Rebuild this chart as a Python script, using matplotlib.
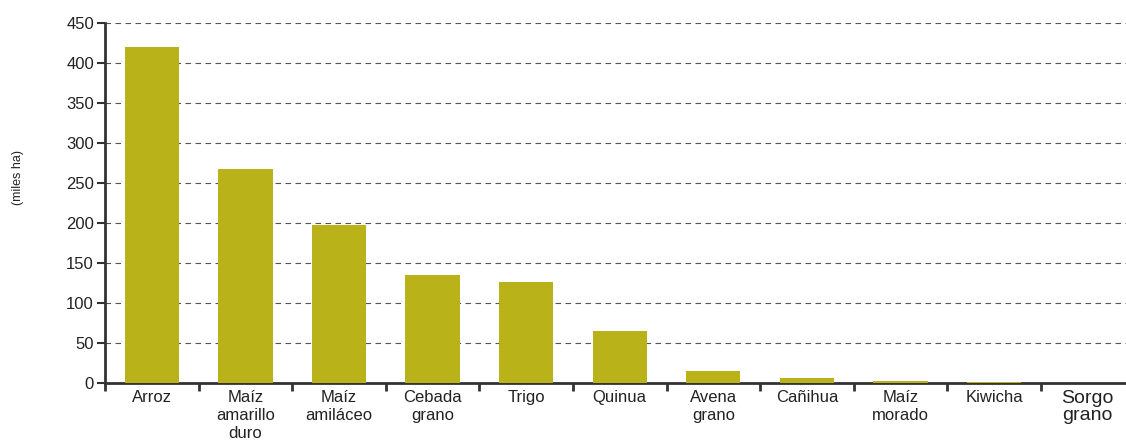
import matplotlib.pyplot as plt
from matplotlib.ticker import FixedLocator

plt.rcParams['font.family'] = ['Liberation Sans Narrow', 'Liberation Sans', 'DejaVu Sans']

# Superficie cosechada por cultivo (miles ha)
cultivos = ['Arroz', 'Maíz\namarillo\nduro', 'Maíz\namiláceo', 'Cebada\ngrano', 'Trigo',
            'Quinua', 'Avena\ngrano', 'Cañihua', 'Maíz\nmorado', 'Kiwicha', 'Sorgo\ngrano']
superficie = [420, 267.5, 197.5, 135, 126, 65, 15, 6, 2.5, 1.5, 0.3]
yticks = [0, 50, 100, 150, 200, 250, 300, 350, 400, 450]

fig = plt.figure(figsize=(11.26, 4.41), dpi=100)
ax = fig.add_axes([105 / 1126, 1 - 383 / 441, 1 - 105 / 1126, 360 / 441])

x = list(range(len(cultivos)))
ax.bar(x, superficie, width=0.58, color='#B9B218', zorder=3)

ax.set_ylim(0, 450)
ax.set_xlim(-0.5, 10.41)
ax.set_yticks(yticks)
ax.grid(axis='y', linestyle=(0, (5, 4)), color='#555555', linewidth=0.8, zorder=0)
ax.tick_params(axis='y', labelsize=12, length=6, width=1.5, color='#333333', pad=2,
               labelcolor='#222222')

# ticks between categories, labels centred on bars
ax.xaxis.set_major_locator(FixedLocator([i - 0.5 for i in range(len(cultivos) + 1)]))
ax.set_xticklabels([])
ax.xaxis.set_minor_locator(FixedLocator(x))
ax.set_xticklabels(cultivos, minor=True)
ax.tick_params(axis='x', which='major', length=6, width=2, color='#333333')
ax.tick_params(axis='x', which='minor', length=0, pad=5, labelsize=12, labelcolor='#222222')
for lab in ax.get_xticklabels(minor=True):
    lab.set_linespacing(1.25)
    if lab.get_text().startswith('Sorgo'):
        lab.set_fontsize(14)
        lab.set_linespacing(1.0)

for s in ['top', 'right']:
    ax.spines[s].set_visible(False)
for s in ['left', 'bottom']:
    ax.spines[s].set_linewidth(2)
    ax.spines[s].set_color('#333333')

fig.text(18 / 1126, 1 - 178 / 441, '(miles ha)', rotation=90, fontsize=9,
         ha='center', va='center', color='#222222')

fig.savefig('out.png', dpi=100)
